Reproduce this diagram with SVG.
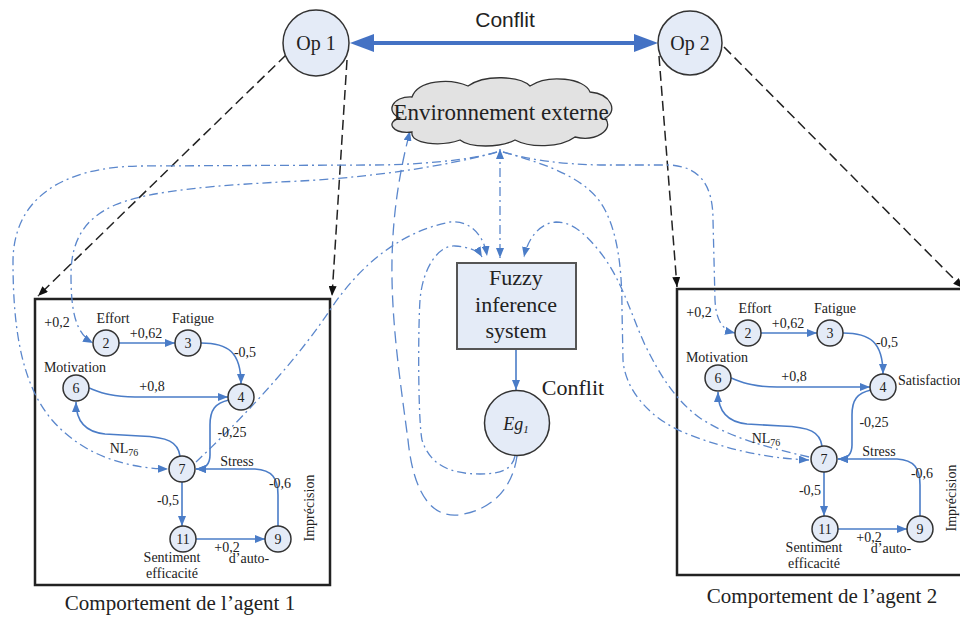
<svg xmlns="http://www.w3.org/2000/svg" width="960" height="618" viewBox="0 0 960 618">
<defs>
<style>
.nd circle{fill:#e4ebf7;stroke:#333;stroke-width:1.5}
.t{font-family:"Liberation Serif","Times New Roman",serif;fill:#222;text-anchor:middle}
.s{font-size:14px}
.n{font-size:14px}
.e{fill:none;stroke:#4a7cc7;stroke-width:1.6;marker-end:url(#ab)}
.dd{fill:none;stroke:#5b87cc;stroke-width:1.3;stroke-dasharray:9 4 2 4}
.ld{fill:none;stroke:#5b87cc;stroke-width:1.3;stroke-dasharray:12 6}
.bk{fill:none;stroke:#222;stroke-width:1.5;stroke-dasharray:10 5;marker-end:url(#ak)}
.box{fill:#fff;stroke:#222;stroke-width:2.5}
</style>
<marker id="ab" viewBox="0 0 10 8" refX="10" refY="4" markerWidth="10" markerHeight="8" markerUnits="userSpaceOnUse" orient="auto"><path d="M0,0 L10,4 L0,8 Z" fill="#4a7cc7"/></marker>
<marker id="ab2" viewBox="0 0 10 8" refX="10" refY="4" markerWidth="10" markerHeight="8" markerUnits="userSpaceOnUse" orient="auto-start-reverse"><path d="M0,0 L10,4 L0,8 Z" fill="#4a7cc7"/></marker>
<marker id="ak" viewBox="0 0 10 8" refX="10" refY="4" markerWidth="10" markerHeight="8" markerUnits="userSpaceOnUse" orient="auto"><path d="M0,0 L10,4 L0,8 Z" fill="#111"/></marker>
<marker id="abig" viewBox="0 0 24 18" refX="2" refY="9" markerWidth="24" markerHeight="18" markerUnits="userSpaceOnUse" orient="auto-start-reverse"><path d="M0,0 L24,9 L0,18 Z" fill="#4472c4"/></marker>
</defs>
<rect width="960" height="618" fill="#fff"/>

<!-- agent boxes -->
<rect class="box" x="35" y="299" width="295" height="286"/>
<rect class="box" x="677" y="289" width="295" height="286"/>

<g id="connectors">
  <!-- Conflit between Op1 and Op2 -->
  <line x1="372" y1="43" x2="636" y2="43" stroke="#4472c4" stroke-width="4" marker-start="url(#abig)" marker-end="url(#abig)"/>
  <!-- Op to agent boxes -->
  <path class="bk" d="M286,55 L38,296"/>
  <path class="bk" d="M347,60 L332,296"/>
  <path class="bk" d="M659,56 L677,287"/>
  <path class="bk" d="M724,47 L963,288"/>
  <!-- environment links -->
  <path class="dd" marker-start="url(#ab2)" marker-end="url(#ab2)" d="M500,149 L500,258"/>
  <path class="dd" marker-end="url(#ab)" d="M497,152 C470,160 420,165 370,165 L140,166 C60,167 13,200 13,262 C13,330 22,385 52,420 C80,452 120,468 168,469"/>
  <path class="dd" marker-end="url(#ab)" d="M497,152 C440,168 360,178 300,181 C220,185 150,190 115,205 C85,218 71,240 71,275 C71,310 75,333 93,343"/>
  <path class="dd" marker-end="url(#ab)" d="M196,462 C230,430 290,370 330,310 C360,265 400,232 450,222 C470,220 484,235 487,256"/>
  <path class="dd" marker-end="url(#ab)" d="M515,456 C512,470 500,474 480,474 C450,474 430,465 422,440 C418,420 418,330 420,300 C423,265 440,245 455,246 C468,247 478,250 482,257"/>
  <path class="ld" marker-end="url(#ab)" d="M517,456 C513,485 495,510 458,515 C425,518 412,480 408,440 C400,380 391,320 392,260 C393,210 400,170 410,131"/>
  <path class="dd" marker-end="url(#ab)" d="M503,152 C530,160 560,164 600,165 L670,165 C700,167 713,185 713,220 L715,300 C716,320 722,330 735,333"/>
  <path class="dd" marker-end="url(#ab)" d="M503,152 C550,165 590,180 605,210 C618,235 622,270 622,310 L623,360 C625,390 650,420 690,435 C730,450 765,458 809,460"/>
  <path class="dd" marker-end="url(#ab)" d="M809,457 C770,448 730,438 700,418 C675,400 660,375 645,345 C630,312 622,280 600,252 C585,233 572,222 556,222 C540,223 528,238 524,257"/>
  <!-- fuzzy to Eg1 -->
  <path class="e" d="M516,349 L516,390"/>
</g>

<!-- Op nodes -->
<g id="op1" class="nd"><circle cx="316" cy="43" r="33"/><text class="t" x="316" y="50" font-size="20">Op 1</text></g>
<g id="op2" class="nd"><circle cx="690" cy="43" r="32"/><text class="t" x="690" y="50" font-size="20">Op 2</text></g>
<text x="505" y="27" font-family="'Liberation Sans',Arial,sans-serif" font-size="21" fill="#222" text-anchor="middle">Conflit</text>

<!-- Environment -->
<g id="env">
<path d="M400,118 C385,112 392,96 412,97 C418,80 450,78 468,86 C485,74 520,76 530,86 C548,74 585,78 590,92 C612,94 618,112 605,118 C615,130 595,142 575,137 C560,148 530,148 515,140 C500,148 470,148 460,140 C440,147 410,144 412,132 C392,134 385,122 400,118 Z" fill="#e2e2e2" stroke="#333" stroke-width="1.3"/>
<text class="t" x="501" y="120" font-size="23">Environnement externe</text>
</g>

<!-- Fuzzy inference system -->
<g id="fis">
<rect x="457" y="263" width="119" height="86" fill="#e4ebf7" stroke="#555" stroke-width="2"/>
<text class="t" x="516" y="285" font-size="22">Fuzzy</text>
<text class="t" x="516" y="312" font-size="22">inference</text>
<text class="t" x="516" y="338" font-size="22">system</text>
</g>

<!-- Eg1 -->
<g id="eg1" class="nd">
<circle cx="517" cy="423" r="32.5"/>
<text class="t" x="516" y="430" font-size="18" font-style="italic">Eg<tspan font-size="11" dy="3">1</tspan></text>
</g>
<text class="t" x="573" y="395" font-size="22">Conflit</text>

<!-- Agent 1 -->
<g id="agent1">
  <g class="conn">
    <path class="e" d="M119,343 L175,343"/>
    <path class="e" d="M201,343 C228,343 241,352 241,384"/>
    <path class="e" d="M89,388 C100,392 110,397 135,397 L228,397"/>
    <path class="e" d="M180,456 C178,442 168,437 140,436 L105,434 C85,432 76,420 76,402"/>
    <path class="e" d="M229,400 C215,403 210,410 210,425 L210,455 C210,465 205,469 196,469"/>
    <path class="e" d="M278,526 L278,495 C278,478 272,470 255,469 L196,469"/>
    <path class="e" d="M182,482 L182,526"/>
    <path class="e" d="M196,539 L265,539"/>
  </g>
  <g id="a1-n2" class="nd"><circle cx="106" cy="343" r="13"/><text class="t n" x="106" y="348">2</text></g>
  <g id="a1-n3" class="nd"><circle cx="188" cy="343" r="13"/><text class="t n" x="188" y="348">3</text></g>
  <g id="a1-n4" class="nd"><circle cx="241" cy="397" r="13"/><text class="t n" x="241" y="402">4</text></g>
  <g id="a1-n6" class="nd"><circle cx="76" cy="388" r="13"/><text class="t n" x="76" y="393">6</text></g>
  <g id="a1-n7" class="nd"><circle cx="182" cy="469" r="13"/><text class="t n" x="182" y="474">7</text></g>
  <g id="a1-n11" class="nd"><circle cx="183" cy="539" r="13"/><text class="t n" x="183" y="544">11</text></g>
  <g id="a1-n9" class="nd"><circle cx="278" cy="539" r="13"/><text class="t n" x="278" y="544">9</text></g>
  <g class="t s">
    <text x="57" y="327">+0,2</text>
    <text x="113" y="323">Effort</text>
    <text x="193" y="323">Fatigue</text>
    <text x="146" y="338">+0,62</text>
    <text x="245" y="357">-0,5</text>
    <text x="75" y="372">Motivation</text>
    <text x="152" y="391">+0,8</text>
    <text x="232" y="437">-0,25</text>
    <text x="124" y="453">NL<tspan font-size="10" dy="3">76</tspan></text>
    <text x="237" y="466">Stress</text>
    <text x="280" y="488">-0,6</text>
    <text x="168" y="505">-0,5</text>
    <text x="227" y="552">+0,2</text>
    <text x="249" y="563">d’auto-</text>
    <text x="172" y="562">Sentiment</text>
    <text x="172" y="578">efficacité</text>
    <text transform="translate(314,508) rotate(-90)">Imprécision</text>
  </g>
</g>
<text class="t" x="180" y="610" font-size="21">Comportement de l’agent 1</text>

<!-- Agent 2 -->
<g id="agent2" transform="translate(642,-10)">
  <g class="conn">
    <path class="e" d="M119,343 L175,343"/>
    <path class="e" d="M201,343 C228,343 241,352 241,384"/>
    <path class="e" d="M89,388 C100,392 110,397 135,397 L228,397"/>
    <path class="e" d="M180,456 C178,442 168,437 140,436 L105,434 C85,432 76,420 76,402"/>
    <path class="e" d="M229,400 C215,403 210,410 210,425 L210,455 C210,465 205,469 196,469"/>
    <path class="e" d="M278,526 L278,495 C278,478 272,470 255,469 L196,469"/>
    <path class="e" d="M182,482 L182,526"/>
    <path class="e" d="M196,539 L265,539"/>
  </g>
  <g id="a2-n2" class="nd"><circle cx="106" cy="343" r="13"/><text class="t n" x="106" y="348">2</text></g>
  <g id="a2-n3" class="nd"><circle cx="188" cy="343" r="13"/><text class="t n" x="188" y="348">3</text></g>
  <g id="a2-n4" class="nd"><circle cx="241" cy="397" r="13"/><text class="t n" x="241" y="402">4</text></g>
  <g id="a2-n6" class="nd"><circle cx="76" cy="388" r="13"/><text class="t n" x="76" y="393">6</text></g>
  <g id="a2-n7" class="nd"><circle cx="182" cy="469" r="13"/><text class="t n" x="182" y="474">7</text></g>
  <g id="a2-n11" class="nd"><circle cx="183" cy="539" r="13"/><text class="t n" x="183" y="544">11</text></g>
  <g id="a2-n9" class="nd"><circle cx="278" cy="539" r="13"/><text class="t n" x="278" y="544">9</text></g>
  <g class="t s">
    <text x="57" y="327">+0,2</text>
    <text x="113" y="323">Effort</text>
    <text x="193" y="323">Fatigue</text>
    <text x="146" y="338">+0,62</text>
    <text x="245" y="357">-0,5</text>
    <text x="75" y="372">Motivation</text>
    <text x="152" y="391">+0,8</text>
    <text x="256" y="395" text-anchor="start">Satisfaction</text>
    <text x="232" y="437">-0,25</text>
    <text x="124" y="453">NL<tspan font-size="10" dy="3">76</tspan></text>
    <text x="237" y="466">Stress</text>
    <text x="280" y="488">-0,6</text>
    <text x="168" y="505">-0,5</text>
    <text x="227" y="552">+0,2</text>
    <text x="249" y="563">d’auto-</text>
    <text x="172" y="562">Sentiment</text>
    <text x="172" y="578">efficacité</text>
    <text transform="translate(314,508) rotate(-90)">Imprécision</text>
  </g>
</g>
<text class="t" x="822" y="603" font-size="21">Comportement de l’agent 2</text>
</svg>
